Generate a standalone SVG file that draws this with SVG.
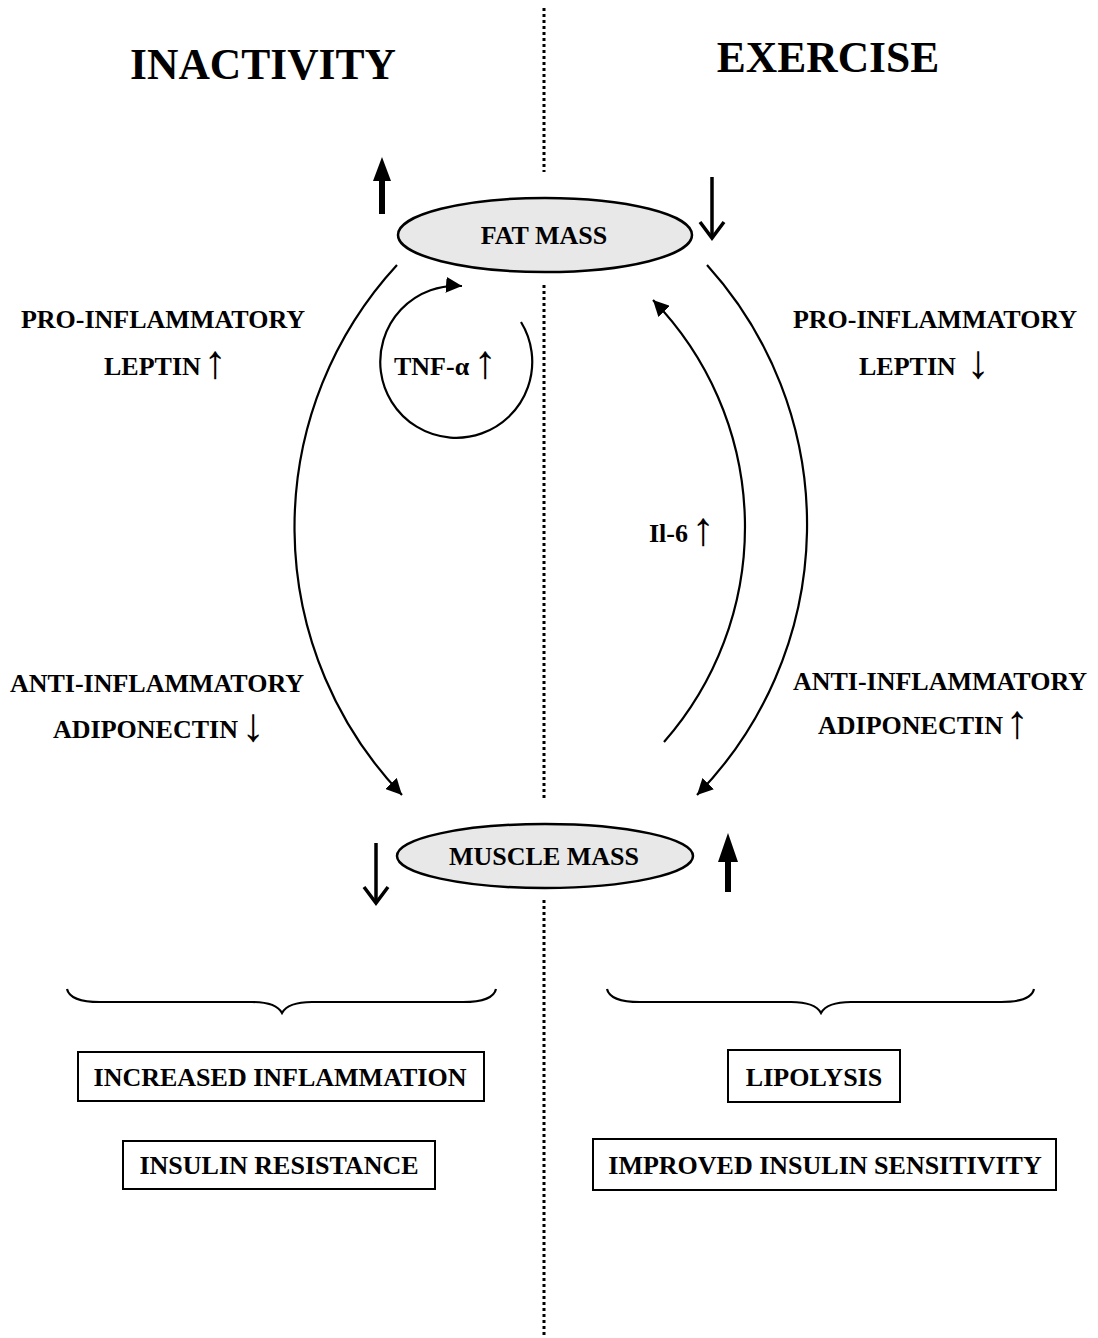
<svg xmlns="http://www.w3.org/2000/svg" width="1098" height="1338" viewBox="0 0 1098 1338">
<style>
.t{font-family:"Liberation Serif","Times New Roman",serif;font-weight:bold;fill:#000}
.lbl{font-size:26px}
.ttl{font-size:43.5px}
.ar{font-family:"Liberation Serif","DejaVu Serif",serif;font-weight:normal;font-size:47px}
.node{fill:#e8e8e8;stroke:#000;stroke-width:2.5}
.box{fill:#fff;stroke:#000;stroke-width:2}
.con{fill:none;stroke:#000;stroke-width:2.2}
.dot{stroke:#000;stroke-width:3;stroke-dasharray:3 3}
</style>
<defs>
<marker id="ah" viewBox="0 0 10 10" refX="10" refY="5" markerWidth="16" markerHeight="16" markerUnits="userSpaceOnUse" orient="auto">
<path d="M0,0 L10,5 L0,10 z" fill="#000"/>
</marker>
</defs>
<rect width="1098" height="1338" fill="#fff"/>

<g id="divider">
<line class="dot" x1="544" y1="8" x2="544" y2="172"/>
<line class="dot" x1="544" y1="285" x2="544" y2="800"/>
<line class="dot" x1="544" y1="900" x2="544" y2="1338"/>
</g>

<g id="titles">
<text class="t ttl" x="263" y="79" text-anchor="middle">INACTIVITY</text>
<text class="t ttl" x="828" y="72" text-anchor="middle">EXERCISE</text>
</g>

<g id="connectors">
<path class="con" d="M397,265 A387,387 0 0 0 402,795" marker-end="url(#ah)"/>
<path class="con" d="M707,265 A387,387 0 0 1 697,795" marker-end="url(#ah)"/>
<path class="con" d="M664,742 A326,326 0 0 0 653,300" marker-end="url(#ah)"/>
<path class="con" d="M521,322 A76,76 0 1 1 462,286" marker-end="url(#ah)"/>
</g>

<g id="fat-mass">
<ellipse class="node" cx="545" cy="235" rx="147" ry="37"/>
<text class="t lbl" x="544" y="244" text-anchor="middle">FAT MASS</text>
</g>

<g id="muscle-mass">
<ellipse class="node" cx="545" cy="856" rx="148" ry="32"/>
<text class="t lbl" x="544" y="856" text-anchor="middle" dy="9">MUSCLE MASS</text>
</g>

<g id="change-arrows">
<line x1="382" y1="214" x2="382" y2="178" stroke="#000" stroke-width="6"/>
<path d="M382,157 L373,181 L391,181 z" fill="#000"/>
<line x1="712" y1="177" x2="712" y2="236" stroke="#000" stroke-width="3.5"/>
<path d="M700,222 L712,238 L724,222" fill="none" stroke="#000" stroke-width="3.5"/>
<line x1="376" y1="843" x2="376" y2="900" stroke="#000" stroke-width="3.5"/>
<path d="M364,887 L376,903 L388,887" fill="none" stroke="#000" stroke-width="3.5"/>
<line x1="728" y1="892" x2="728" y2="858" stroke="#000" stroke-width="6"/>
<path d="M728,833 L718,862 L738,862 z" fill="#000"/>
</g>

<g id="left-pro">
<text class="t lbl" x="163" y="328" text-anchor="middle">PRO-INFLAMMATORY</text>
<text class="t lbl" x="104" y="375">LEPTIN<tspan class="ar" x="215" y="378" text-anchor="middle">↑</tspan></text>
</g>
<g id="tnf">
<text class="t lbl" x="394" y="375">TNF-α<tspan class="ar" x="485" y="378" text-anchor="middle">↑</tspan></text>
</g>
<g id="il6">
<text class="t lbl" x="649" y="542">Il-6<tspan class="ar" x="703" y="545" text-anchor="middle">↑</tspan></text>
</g>
<g id="right-pro">
<text class="t lbl" x="935" y="328" text-anchor="middle">PRO-INFLAMMATORY</text>
<text class="t lbl" x="859" y="375">LEPTIN<tspan class="ar" x="978" y="378" text-anchor="middle" font-weight="bold">↓</tspan></text>
</g>
<g id="left-anti">
<text class="t lbl" x="157" y="692" text-anchor="middle">ANTI-INFLAMMATORY</text>
<text class="t lbl" x="53" y="738">ADIPONECTIN<tspan class="ar" x="253" y="741" text-anchor="middle">↓</tspan></text>
</g>
<g id="right-anti">
<text class="t lbl" x="940" y="690" text-anchor="middle">ANTI-INFLAMMATORY</text>
<text class="t lbl" x="818" y="734">ADIPONECTIN<tspan class="ar" x="1017" y="738" text-anchor="middle">↑</tspan></text>
</g>

<g id="braces">
<path class="con" d="M67,989 Q70,1002 100,1002 L252,1002 Q276,1002 282,1013 Q288,1002 312,1002 L463,1002 Q493,1002 496,989"/>
<path class="con" d="M607,989 Q610,1002 640,1002 L791,1002 Q815,1002 821,1013 Q827,1002 851,1002 L1001,1002 Q1031,1002 1034,989"/>
</g>

<g id="increased-inflammation">
<rect class="box" x="78" y="1052" width="406" height="49"/>
<text class="t lbl" x="280" y="1086" text-anchor="middle">INCREASED INFLAMMATION</text>
</g>
<g id="insulin-resistance">
<rect class="box" x="123" y="1141" width="312" height="48"/>
<text class="t lbl" x="279" y="1174" text-anchor="middle">INSULIN RESISTANCE</text>
</g>
<g id="lipolysis">
<rect class="box" x="728" y="1050" width="172" height="52"/>
<text class="t lbl" x="814" y="1086" text-anchor="middle">LIPOLYSIS</text>
</g>
<g id="improved-insulin">
<rect class="box" x="593" y="1139" width="463" height="51"/>
<text class="t lbl" x="825" y="1174" text-anchor="middle">IMPROVED INSULIN SENSITIVITY</text>
</g>
</svg>
